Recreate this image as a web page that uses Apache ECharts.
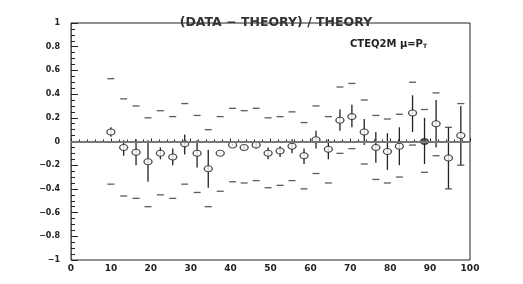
<!DOCTYPE html>
<html>
<head>
<meta charset="utf-8">
<script src="https://cdn.jsdelivr.net/npm/echarts@6/dist/echarts.min.js"></script>
<style>
  html, body { margin: 0; padding: 0; background: #fff; }
  #main { width: 523px; height: 284px; }
</style>
</head>
<body>
<div id="main"></div>
<script>
// x positions of the measurements
const xs = [10, 13.2, 16.3, 19.3, 22.4, 25.5, 28.5, 31.6, 34.4, 37.4, 40.5, 43.4, 46.4, 49.4, 52.4,
  55.4, 58.4, 61.4, 64.5, 67.4, 70.4, 73.5, 76.4, 79.3, 82.3, 85.6, 88.6, 91.5, 94.6, 97.7]
// (data - theory) / theory
const vals = [0.08, -0.05, -0.09, -0.17, -0.1, -0.13, -0.02, -0.1, -0.23, -0.1, -0.03, -0.05, -0.03, -0.1, -0.08,
  -0.04, -0.12, 0.015, -0.065, 0.18, 0.21, 0.08, -0.05, -0.085, -0.04, 0.24, 0.0, 0.15, -0.14, 0.05]
// error bar ends
const errHi = [0.12, 0.01, 0.02, 0.01, -0.05, -0.06, 0.06, 0.01, -0.07, -0.09, -0.02, -0.03, -0.01, -0.05, -0.04,
  0.02, -0.06, 0.09, 0.02, 0.27, 0.31, 0.19, 0.08, 0.07, 0.12, 0.39, 0.2, 0.35, 0.12, 0.3]
const errLo = [0.04, -0.12, -0.2, -0.34, -0.15, -0.2, -0.11, -0.22, -0.39, -0.11, -0.04, -0.07, -0.06, -0.15, -0.13,
  -0.1, -0.19, -0.06, -0.15, 0.09, 0.12, -0.03, -0.18, -0.24, -0.2, 0.08, -0.19, -0.05, -0.4, -0.2]
// systematic band (dashes)
const bandHi = [0.53, 0.36, 0.3, 0.2, 0.26, 0.21, 0.32, 0.22, 0.1, 0.21, 0.28, 0.26, 0.28, 0.2, 0.21,
  0.25, 0.16, 0.3, 0.21, 0.46, 0.49, 0.35, 0.22, 0.19, 0.23, 0.5, 0.27, 0.41, 0.12, 0.32]
const bandLo = [-0.36, -0.46, -0.48, -0.55, -0.45, -0.48, -0.36, -0.43, -0.55, -0.42, -0.34, -0.35, -0.33, -0.39, -0.37,
  -0.33, -0.40, -0.27, -0.35, -0.1, -0.06, -0.19, -0.32, -0.35, -0.3, -0.03, -0.26, -0.12, -0.4, -0.2]
const filledIdx = [26]  // the one filled marker

const FONT = 'DejaVu Sans'
const INK = '#222'

const chart = echarts.init(document.getElementById('main'))

const pointData = xs.map((x, i) => {
  const item = { value: [x, vals[i]] }
  if (filledIdx.includes(i)) item.itemStyle = { color: '#444' }
  return item
})
const errData = xs.map((x, i) => [x, errLo[i], errHi[i]])
const bandData = []
xs.forEach((x, i) => {
  bandData.push([x, bandHi[i]])
  bandData.push([x, bandLo[i]])
})

const option = {
  animation: false,
  backgroundColor: '#fff',
  title: {
    text: '(DATA \u2212 THEORY) / THEORY',
    left: 271,
    textAlign: 'center',
    top: 11,
    textStyle: { fontFamily: FONT, fontSize: 12.5, fontWeight: 'bold', color: '#333' }
  },
  graphic: [{
    type: 'text',
    left: 350,
    top: 39,
    style: {
      text: 'CTEQ2M \u03bc=P{s|T}',
      fontFamily: FONT,
      fontSize: 10,
      fontWeight: 'bold',
      fill: INK,
      rich: { s: { fontSize: 6, fontWeight: 'bold', fontFamily: FONT, padding: [5, 0, 0, 0] } }
    }
  }],
  grid: {
    left: 71, right: 53, top: 23, bottom: 24,
    show: true, borderColor: INK, borderWidth: 1
  },
  xAxis: {
    type: 'value', min: 0, max: 100, interval: 10,
    axisLine: { lineStyle: { color: '#555', width: 1 } },
    axisTick: { inside: true, length: 3, lineStyle: { color: INK } },
    minorTick: { show: true, splitNumber: 5, length: 2, lineStyle: { color: INK } },
    splitLine: { show: false },
    axisLabel: { fontFamily: FONT, fontSize: 9, fontWeight: 'bold', color: INK, margin: 4 }
  },
  yAxis: {
    type: 'value', min: -1, max: 1, interval: 0.2,
    axisLine: { lineStyle: { color: '#555', width: 1 } },
    axisTick: { inside: true, length: 7, lineStyle: { color: INK } },
    minorTick: { show: true, splitNumber: 4, length: 4, lineStyle: { color: INK } },
    splitLine: { show: false },
    axisLabel: {
      fontFamily: FONT, fontSize: 8, fontWeight: 'bold', color: INK, margin: 11,
      formatter: v => String(+v.toFixed(1)).replace('-', '\u2212')
    }
  },
  series: [
    {
      // error bars
      type: 'custom',
      renderItem: (params, api) => {
        const top = api.coord([api.value(0), api.value(2)])
        const bot = api.coord([api.value(0), api.value(1)])
        return {
          type: 'line',
          shape: { x1: top[0], y1: top[1], x2: bot[0], y2: bot[1] },
          style: { stroke: INK, lineWidth: 1.3 }
        }
      },
      encode: { x: 0, y: [1, 2] },
      data: errData,
      z: 2
    },
    {
      // band dashes
      type: 'scatter',
      symbol: 'rect',
      symbolSize: [7, 1.3],
      itemStyle: { color: '#333' },
      data: bandData,
      z: 2
    },
    {
      type: 'scatter',
      symbol: 'circle',
      symbolSize: [8, 6],
      itemStyle: { color: '#fff', borderColor: INK, borderWidth: 1.2 },
      data: pointData,
      z: 4,
      markLine: {
        silent: true,
        symbol: 'none',
        label: { show: false },
        lineStyle: { color: '#777', width: 2, type: 'solid' },
        data: [{ yAxis: 0 }]
      }
    }
  ]
}

chart.setOption(option)
</script>
</body>
</html>
